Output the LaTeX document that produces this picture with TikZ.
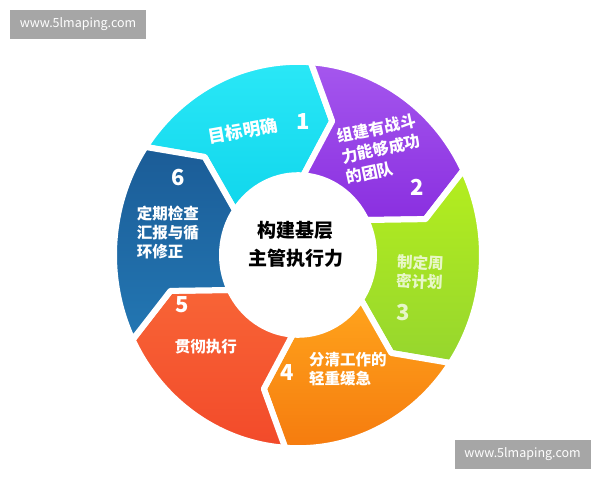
\documentclass[tikz,border=0pt]{standalone}
\usepackage{fontspec}
\newfontfamily\cjk{Noto Sans CJK SC}
\definecolor{cyanA}{HTML}{2BE8F7}\definecolor{cyanB}{HTML}{10D6EC}
\definecolor{purpA}{HTML}{A557EE}\definecolor{purpB}{HTML}{8A2FE0}
\definecolor{limeA}{HTML}{B4EE1E}\definecolor{limeB}{HTML}{96D62E}
\definecolor{oranA}{HTML}{FFA41C}\definecolor{oranB}{HTML}{F57A0E}
\definecolor{redA}{HTML}{F86436}\definecolor{redB}{HTML}{F24A2A}
\definecolor{blueA}{HTML}{1B5C97}\definecolor{blueB}{HTML}{2377B3}
\definecolor{wmgray}{HTML}{A6A6A6}
\tikzset{
  seglabel/.style={text=white, font=\cjk\bfseries\fontsize{15.5}{19}\selectfont, align=left, inner sep=0pt},
  segnum/.style={text=white, font=\cjk\bfseries\fontsize{22}{22}\selectfont, inner sep=0pt},
  watermark/.style={fill=wmgray, text=white, minimum width=136pt, minimum height=29pt, inner sep=0pt, font=\cjk\fontsize{12.5}{12.5}\selectfont}
}
\begin{document}
\begin{tikzpicture}[x=1pt,y=1pt]
  \fill[white] (-298,-225) rectangle (302,255);
  \useasboundingbox (-298,-225) rectangle (302,255);
  % ring of six arrows
  \begin{scope}[yscale=1.05]
    \foreach \ca/\cb [count=\i from 0] in {cyanA/cyanB,purpA/purpB,limeA/limeB,oranA/oranB,redA/redB,blueA/blueB} {
      \pgfmathsetmacro\b{146-60*\i}
      \pgfmathsetmacro\e{\b-60}
      \shadedraw[top color=\ca, bottom color=\cb, draw=white, line width=6pt, line join=round]
        (\b:184) arc[start angle=\b, end angle=\e, radius=184] -- ({\e-11}:132) -- (\e:76)
        arc[start angle=\e, end angle=\b, radius=76] -- ({\b-11}:132) -- cycle;
    }
  \end{scope}
  % texts
  \node[font=\cjk\bfseries\fontsize{19}{28}\selectfont, align=center] (core) at (-2,11) {构建基层\\主管执行力};
  \node[seglabel, font=\cjk\bfseries\fontsize{17.5}{20}\selectfont, rotate=10] (goal) at (-55,124) {目标明确};
  \node[segnum] (n1) at (5,133) {1};
  \node[seglabel, font=\cjk\bfseries\fontsize{16}{21}\selectfont, rotate=12] (team) at (83,106) {组建有战斗\\力能够成功\\的团队};
  \node[segnum] (n2) at (119,68) {2};
  \node[seglabel, rotate=-3, text opacity=0.75] (plan) at (122,-17) {制定周\\密计划};
  \node[segnum, text opacity=0.75] (n3) at (105,-58) {3};
  \node[seglabel] (prio) at (50,-114) {分清工作的\\轻重缓急};
  \node[segnum] (n4) at (-11,-118) {4};
  \node[seglabel] (exec) at (-92,-92) {贯彻执行};
  \node[segnum] (n5) at (-116,-50) {5};
  \node[seglabel] (check) at (-130,23) {定期检查\\汇报与循\\环修正};
  \node[segnum] (n6) at (-120,77) {6};
  % watermarks
  \node[watermark] (wmtop) at (-220,230.5) {www.5lmaping.com};
  \node[watermark] (wmbot) at (224.5,-199.5) {www.5lmaping.com};
\end{tikzpicture}
\end{document}
